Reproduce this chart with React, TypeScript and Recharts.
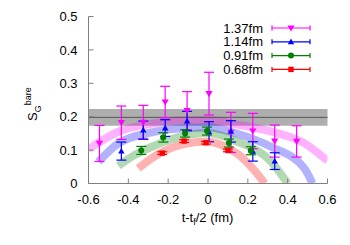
import React from "react";
import {
  ComposedChart,
  ErrorBar,
  Legend,
  Line,
  ReferenceArea,
  ReferenceLine,
  Scatter,
  XAxis,
  YAxis,
} from "recharts";

// data points with errors
const X_137 = [-0.545, -0.435, -0.325, -0.215, -0.105, 0.005, 0.115, 0.225, 0.335, 0.445];
const Y_137 = [0.12, 0.182, 0.183, 0.244, 0.218, 0.269, 0.153, 0.157, 0.127, 0.126];
const E_137 = [0.054, 0.05, 0.051, 0.047, 0.057, 0.064, 0.06, 0.053, 0.048, 0.047];

const X_114 = [-0.435, -0.325, -0.215, -0.105, 0.005, 0.115, 0.225, 0.335];
const Y_114 = [0.097, 0.16, 0.166, 0.187, 0.155, 0.156, 0.096, 0.067];
const E_114 = [0.027, 0.027, 0.025, 0.029, 0.03, 0.032, 0.029, 0.025];

const X_091 = [-0.335, -0.225, -0.115, -0.005, 0.105, 0.215];
const Y_091 = [0.099, 0.138, 0.15, 0.157, 0.121, 0.098];
const E_091 = [0.012, 0.014, 0.011, 0.012, 0.012, 0.012];

const X_068 = [-0.23, -0.12, -0.01, 0.1];
const Y_068 = [0.091, 0.127, 0.122, 0.099];
const E_068 = [0.004, 0.004, 0.004, 0.004];

// fit bands (centre line, sampled off the figure)
const BX_137 = [-0.6, -0.45, -0.28, -0.115, 0, 0.15, 0.316, 0.483, 0.6];
const BY_137 = [0.103, 0.155, 0.179, 0.19, 0.19, 0.176, 0.156, 0.121, 0.068];
const BX_114 = [-0.55, -0.45, -0.282, -0.115, 0, 0.148, 0.316, 0.483, 0.525];
const BY_114 = [0.065, 0.12, 0.153, 0.166, 0.168, 0.149, 0.11, 0.046, 0.0];
const BX_091 = [-0.45, -0.366, -0.282, -0.115, 0, 0.148, 0.316, 0.4];
const BY_091 = [0.053, 0.086, 0.11, 0.144, 0.151, 0.125, 0.066, 0.0];
const BX_068 = [-0.35, -0.282, -0.115, 0, 0.065, 0.148, 0.232, 0.285];
const BY_068 = [0.045, 0.076, 0.119, 0.126, 0.116, 0.089, 0.04, 0.0];

// horizontal band
const BAND_MID = 0.198;
const BAND_ERR = 0.025;

const X_TICKS = [-0.6, -0.4, -0.2, 0, 0.2, 0.4, 0.6];
const Y_TICKS = [0, 0.1, 0.2, 0.3, 0.4, 0.5];

const FONT = "'Liberation Sans', Arial, sans-serif";
const AXIS_GRAY = "#808080";

const pts = (xs: number[], ys: number[], es?: number[]) =>
  xs.map((x, i) => ({ x, y: ys[i], e: es ? es[i] : 0 }));

const SERIES = [
  { name: "1.37fm", color: "#ff00ff", marker: "tdown", data: pts(X_137, Y_137, E_137), band: pts(BX_137, BY_137) },
  { name: "1.14fm", color: "#0000ff", marker: "tup", data: pts(X_114, Y_114, E_114), band: pts(BX_114, BY_114) },
  { name: "0.91fm", color: "#008000", marker: "circle", data: pts(X_091, Y_091, E_091), band: pts(BX_091, BY_091) },
  { name: "0.68fm", color: "#ff0000", marker: "square", data: pts(X_068, Y_068, E_068), band: pts(BX_068, BY_068) },
];

function Marker({ kind, cx, cy, color }: { kind: string; cx: number; cy: number; color: string }) {
  switch (kind) {
    case "tdown":
      return <polygon points={`${cx - 3.6},${cy - 2.6} ${cx + 3.6},${cy - 2.6} ${cx},${cy + 3.6}`} fill={color} />;
    case "tup":
      return <polygon points={`${cx - 3.2},${cy + 2.4} ${cx + 3.2},${cy + 2.4} ${cx},${cy - 3.2}`} fill={color} />;
    case "circle":
      return <circle cx={cx} cy={cy} r={3} fill={color} />;
    default:
      return <rect x={cx - 2.7} y={cy - 2.7} width={5.4} height={5.4} fill={color} />;
  }
}

// gnuplot-style inward ticks
const bottomTick = ({ x, y, payload }: any) => (
  <g>
    <line x1={x} x2={x} y1={y - 11} y2={y - 16} stroke={AXIS_GRAY} />
    <text x={x} y={y} dy="0.71em" textAnchor="middle" fontSize={13} fontFamily={FONT} fill="#000">
      {payload.value}
    </text>
  </g>
);
const leftTick = ({ x, y, payload }: any) => (
  <g>
    <line x1={x + 11} x2={x + 16} y1={y} y2={y} stroke={AXIS_GRAY} />
    <text x={x} y={y} dy="0.355em" textAnchor="end" fontSize={13} fontFamily={FONT} fill="#000">
      {payload.value}
    </text>
  </g>
);
const topTick = ({ x, y }: any) => <line x1={x} x2={x} y1={y} y2={y + 5} stroke={AXIS_GRAY} />;
const rightTick = ({ x, y }: any) => <line x1={x} x2={x - 5} y1={y} y2={y} stroke={AXIS_GRAY} />;

function LegendBox() {
  return (
    <svg width={110} height={60} style={{ display: "block" }}>
      {SERIES.map((s, i) => {
        const cy = 11 + i * 13.8;
        return (
          <g key={s.name}>
            <text x={48} y={cy} dy="0.355em" textAnchor="end" fontSize={13} fontFamily={FONT} fill="#000">
              {s.name}
            </text>
            <line x1={57} x2={95} y1={cy} y2={cy} stroke={s.color} strokeWidth={1.2} />
            <line x1={57} x2={57} y1={cy - 2.5} y2={cy + 2.5} stroke={s.color} strokeWidth={1.2} />
            <line x1={95} x2={95} y1={cy - 2.5} y2={cy + 2.5} stroke={s.color} strokeWidth={1.2} />
            <Marker kind={s.marker} cx={76} cy={cy} color={s.color} />
          </g>
        );
      })}
    </svg>
  );
}

const yLabel = () => (
  <text transform="translate(37,121) rotate(-90)" fontFamily={FONT} fill="#000">
    <tspan fontSize={13}>S</tspan>
    <tspan fontSize={9} dy={4}>G</tspan>
    <tspan fontSize={9} dy={-10}>bare</tspan>
  </text>
);

const xLabel = () => (
  <text x={207.5} y={222} textAnchor="middle" fontFamily={FONT} fontSize={13} fill="#000">
    t-t<tspan fontSize={9} dy={3}>f</tspan>
    <tspan dy={-3}>/2 (fm)</tspan>
  </text>
);

export default function App() {
  return (
    <div style={{ position: "absolute", left: 0, top: 0, background: "#fff" }}>
      <ComposedChart width={350} height={245} margin={{ top: 16.5, right: 22.5, bottom: 0.5, left: 0 }}>
        <XAxis
          xAxisId={0}
          dataKey="x"
          type="number"
          domain={[-0.6, 0.6]}
          ticks={X_TICKS}
          allowDataOverflow
          height={61}
          tickSize={0}
          tickMargin={11}
          tickLine={false}
          tick={bottomTick}
          axisLine={{ stroke: AXIS_GRAY }}
          label={xLabel}
        />
        <XAxis
          xAxisId="top"
          orientation="top"
          type="number"
          domain={[-0.6, 0.6]}
          ticks={X_TICKS}
          allowDataOverflow
          height={0}
          tickSize={0}
          tickMargin={0}
          tickLine={false}
          tick={topTick}
          axisLine={{ stroke: AXIS_GRAY }}
        />
        <YAxis
          yAxisId={0}
          dataKey="y"
          type="number"
          domain={[0, 0.5]}
          ticks={Y_TICKS}
          allowDataOverflow
          width={88.5}
          tickSize={0}
          tickMargin={11}
          tickLine={false}
          tick={leftTick}
          axisLine={{ stroke: AXIS_GRAY }}
          label={yLabel}
        />
        <YAxis
          yAxisId="right"
          orientation="right"
          type="number"
          domain={[0, 0.5]}
          ticks={Y_TICKS}
          allowDataOverflow
          width={0}
          tickSize={0}
          tickMargin={0}
          tickLine={false}
          tick={rightTick}
          axisLine={{ stroke: AXIS_GRAY }}
        />

        {SERIES.map((s) => (
          <Line
            key={"band" + s.name}
            data={s.band}
            dataKey="y"
            type="monotone"
            stroke={s.color}
            strokeOpacity={0.3}
            strokeWidth={8}
            strokeLinecap="butt"
            dot={false}
            activeDot={false}
            legendType="none"
            isAnimationActive={false}
          />
        ))}

        <ReferenceArea
          y1={BAND_MID - BAND_ERR}
          y2={BAND_MID + BAND_ERR}
          fill="#8c8c8c"
          fillOpacity={0.7}
          stroke="none"
        />
        <ReferenceLine y={BAND_MID} stroke="#555555" strokeWidth={1} />

        {SERIES.map((s) => (
          <Scatter
            key={s.name}
            name={s.name}
            data={s.data}
            dataKey="y"
            fill={s.color}
            isAnimationActive={false}
            shape={(p: any) => <Marker kind={s.marker} cx={p.cx} cy={p.cy} color={s.color} />}
          >
            <ErrorBar dataKey="e" direction="y" width={5} stroke={s.color} strokeWidth={1.2} isAnimationActive={false} />
          </Scatter>
        ))}

        <Legend
          layout="horizontal"
          verticalAlign="middle"
          align="center"
          wrapperStyle={{ left: 215, top: 17, width: 110, height: 60 }}
          content={() => <LegendBox />}
        />
      </ComposedChart>
    </div>
  );
}
